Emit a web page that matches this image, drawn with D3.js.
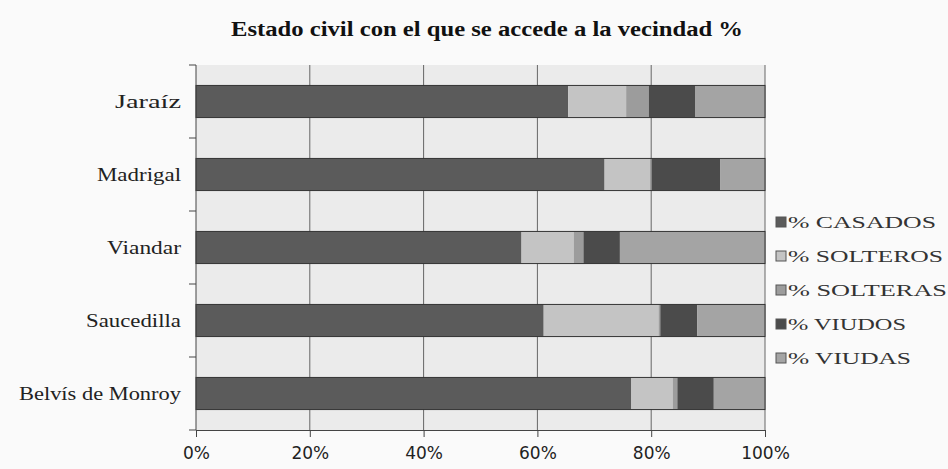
<!DOCTYPE html>
<html>
<head>
<meta charset="utf-8">
<script src="https://cdn.jsdelivr.net/npm/d3@7"></script>
<style>
  body { margin: 0; background: #fafafa; }
  svg { display: block; }
</style>
</head>
<body>
<svg class="svg" width="948" height="469"></svg>
<script>
// data (percent of each town)
var towns = ['Jaraíz', 'Madrigal', 'Viandar', 'Saucedilla', 'Belvís de Monroy'];
var series = ['% CASADOS', '% SOLTEROS', '% SOLTERAS', '% VIUDOS', '% VIUDAS'];
var casados = [65.4, 71.8, 57.2, 61.1, 76.5];
var solteros = [10.2, 8.0, 9.2, 20.2, 7.3];
var solteras = [4.0, 0.3, 1.7, 0.3, 0.8];
var viudos = [8.1, 12.0, 6.4, 6.5, 6.4];
var viudas = [12.3, 7.9, 25.5, 11.9, 9.0];
var xTicks = [0, 20, 40, 60, 80, 100];

var colors = ['#5b5b5b', '#c4c4c4', '#9c9c9c', '#4b4b4b', '#a4a4a4'];

var svg = d3.select('.svg');
// plot box (note: "top" is reserved on window, so prefix them)
var plotLeft = 196, plotRight = 765, plotTop = 65, plotBottom = 430;

// build rows for the stack
var rows = towns.map(function (t, i) {
  return {
    town: t,
    '% CASADOS': casados[i],
    '% SOLTEROS': solteros[i],
    '% SOLTERAS': solteras[i],
    '% VIUDOS': viudos[i],
    '% VIUDAS': viudas[i]
  };
});
var stacked = d3.stack().keys(series)(rows);

var x = d3.scaleLinear().domain([0, 100]).range([plotLeft, plotRight]);
var y = d3.scaleBand().domain(towns).range([plotTop, plotBottom]).paddingInner(0.56).paddingOuter(0.28);

//title
svg.append('text')
  .attr('x', 487).attr('y', 36)
  .attr('text-anchor', 'middle')
  .attr('font-family', 'Liberation Serif, serif')
  .attr('font-weight', 'bold')
  .attr('font-size', 20)
  .attr('fill', '#111')
  .attr('textLength', 512)
  .attr('lengthAdjust', 'spacingAndGlyphs')
  .text('Estado civil con el que se accede a la vecindad %');

//plot background
svg.append('rect')
  .attr('x', plotLeft).attr('y', plotTop)
  .attr('width', plotRight - plotLeft).attr('height', plotBottom - plotTop)
  .attr('fill', '#ebebeb');

//vertical grid lines
svg.append('g')
  .selectAll('line')
  .data(xTicks.slice(1))
  .enter().append('line')
  .attr('x1', d => x(d)).attr('x2', d => x(d))
  .attr('y1', plotTop).attr('y2', plotBottom)
  .attr('stroke', '#666')
  .attr('stroke-width', 1);

//bars
var layer = svg.append('g').selectAll('g')
  .data(stacked)
  .enter().append('g')
  .attr('fill', (d, i) => colors[i]);

layer.selectAll('rect')
  .data(d => d)
  .enter().append('rect')
  .attr('x', d => x(d[0]))
  .attr('y', d => y(d.data.town))
  .attr('width', d => x(d[1]) - x(d[0]))
  .attr('height', y.bandwidth());

//bar outlines
svg.append('g')
  .selectAll('rect')
  .data(towns)
  .enter().append('rect')
  .attr('x', x(0)).attr('y', d => y(d))
  .attr('width', x(100) - x(0)).attr('height', y.bandwidth())
  .attr('fill', 'none')
  .attr('stroke', '#333')
  .attr('stroke-width', 1);

//x axis
var xAxis = svg.append('g')
  .attr('transform', 'translate(0,' + plotBottom + ')')
  .call(d3.axisBottom(x).tickValues(xTicks).tickSize(7).tickFormat(d => d + '%'));
xAxis.select('.domain').attr('stroke', '#444');
xAxis.selectAll('.tick line').attr('stroke', '#444');
xAxis.selectAll('text')
  .attr('font-family', 'DejaVu Sans, sans-serif')
  .attr('font-size', 17)
  .attr('fill', '#222')
  .attr('dy', '1.1em');

//y axis with ticks between categories
var yAxis = svg.append('g').attr('transform', 'translate(' + plotLeft + ',0)');
yAxis.append('line')
  .attr('x1', 0).attr('x2', 0).attr('y1', plotTop).attr('y2', plotBottom)
  .attr('stroke', '#444');
yAxis.selectAll('.sep')
  .data(d3.range(towns.length + 1))
  .enter().append('line')
  .attr('class', 'sep')
  .attr('x1', -7).attr('x2', 0)
  .attr('y1', i => plotTop + i * y.step())
  .attr('y2', i => plotTop + i * y.step())
  .attr('stroke', '#444');

//category labels
var labelWidths = { 'Jaraíz': 66, 'Madrigal': 84, 'Viandar': 74, 'Saucedilla': 95, 'Belvís de Monroy': 162 };
svg.append('g')
  .selectAll('text')
  .data(towns)
  .enter().append('text')
  .attr('x', 181)
  .attr('y', d => y(d) + y.bandwidth() / 2 + 6)
  .attr('text-anchor', 'end')
  .attr('font-family', 'Liberation Serif, serif')
  .attr('font-size', 18)
  .attr('fill', '#222')
  .attr('textLength', d => labelWidths[d])
  .attr('lengthAdjust', 'spacingAndGlyphs')
  .text(d => d);

//legend
var legend = svg.append('g').attr('transform', 'translate(776,217)');
var item = legend.selectAll('g')
  .data(series)
  .enter().append('g')
  .attr('transform', (d, i) => 'translate(0,' + i * 34 + ')');
item.append('rect')
  .attr('width', 10).attr('height', 10)
  .attr('fill', (d, i) => colors[i])
  .attr('stroke', '#555')
  .attr('stroke-width', 1);
item.append('text')
  .attr('x', 12).attr('y', 11)
  .attr('font-family', 'Liberation Serif, serif')
  .attr('font-size', 17)
  .attr('fill', '#333')
  .attr('textLength', (d, i) => [148, 155, 159, 118, 123][i])
  .attr('lengthAdjust', 'spacingAndGlyphs')
  .text(d => d);
</script>
</body>
</html>
